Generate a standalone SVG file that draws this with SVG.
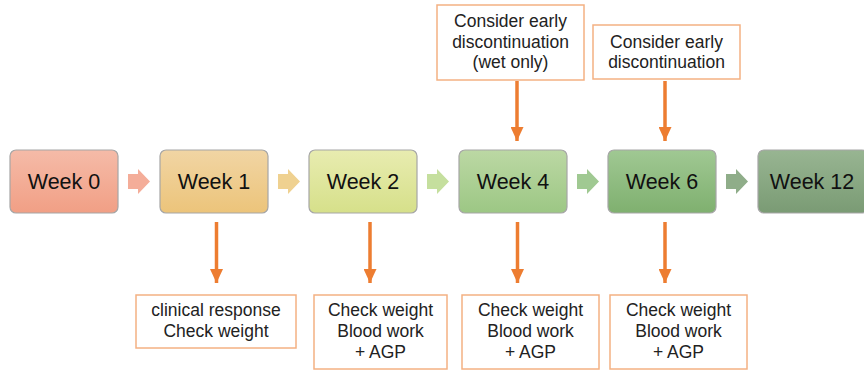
<svg xmlns="http://www.w3.org/2000/svg" width="864" height="371" viewBox="0 0 864 371">
<defs>
<linearGradient id="g0" x1="0" y1="0" x2="0" y2="1"><stop offset="0" stop-color="#f5bba8"/><stop offset="1" stop-color="#f19f85"/></linearGradient>
<linearGradient id="g1" x1="0" y1="0" x2="0" y2="1"><stop offset="0" stop-color="#f1d5a4"/><stop offset="1" stop-color="#ecc47a"/></linearGradient>
<linearGradient id="g2" x1="0" y1="0" x2="0" y2="1"><stop offset="0" stop-color="#e8ecb0"/><stop offset="1" stop-color="#d6e08a"/></linearGradient>
<linearGradient id="g4" x1="0" y1="0" x2="0" y2="1"><stop offset="0" stop-color="#bcd8a4"/><stop offset="1" stop-color="#9cc784"/></linearGradient>
<linearGradient id="g6" x1="0" y1="0" x2="0" y2="1"><stop offset="0" stop-color="#a0c893"/><stop offset="1" stop-color="#7fb06f"/></linearGradient>
<linearGradient id="g12" x1="0" y1="0" x2="0" y2="1"><stop offset="0" stop-color="#98b592"/><stop offset="1" stop-color="#7a9b74"/></linearGradient>
<marker id="ah" viewBox="0 0 14 13" refX="14" refY="6.5" markerWidth="14" markerHeight="13" markerUnits="userSpaceOnUse" orient="auto"><path d="M0,0 L14,6.5 L0,13 Z" fill="#ed7d31"/></marker>
</defs>
<style>
.wk{stroke:#a6a6a6;stroke-width:1.2}
.wt{font-family:"Liberation Sans",Arial,sans-serif;font-size:21.5px;fill:#111;text-anchor:middle}
.nb{fill:#fff;stroke:#f4b183;stroke-width:1.5}
.nt{font-family:"Liberation Sans",Arial,sans-serif;font-size:17.5px;fill:#222;text-anchor:middle}
.oa{stroke:#ed7d31;stroke-width:3.5;fill:none;marker-end:url(#ah)}
</style>
<g id="week0"><rect class="wk" x="10" y="150" width="108" height="63" rx="6" fill="url(#g0)"/><text class="wt" x="64" y="189">Week 0</text></g>
<g id="week1"><rect class="wk" x="160" y="150" width="108" height="63" rx="6" fill="url(#g1)"/><text class="wt" x="214" y="189">Week 1</text></g>
<g id="week2"><rect class="wk" x="309" y="150" width="108" height="63" rx="6" fill="url(#g2)"/><text class="wt" x="363" y="189">Week 2</text></g>
<g id="week4"><rect class="wk" x="459" y="150" width="108" height="63" rx="6" fill="url(#g4)"/><text class="wt" x="513" y="189">Week 4</text></g>
<g id="week6"><rect class="wk" x="608" y="150" width="108" height="63" rx="6" fill="url(#g6)"/><text class="wt" x="662" y="189">Week 6</text></g>
<g id="week12"><rect class="wk" x="758" y="150" width="110" height="63" rx="6" fill="url(#g12)"/><text class="wt" x="812" y="189">Week 12</text></g>
<g id="chevrons">
<path d="M128,174 H138 V169 L150,181.5 L138,194 V189 H128 Z" fill="#f4ad99"/>
<path d="M278,174 H288 V169 L300,181.5 L288,194 V189 H278 Z" fill="#efd190"/>
<path d="M427,174 H437 V169 L449,181.5 L437,194 V189 H427 Z" fill="#c5df9e"/>
<path d="M577,174 H587 V169 L599,181.5 L587,194 V189 H577 Z" fill="#a0c992"/>
<path d="M726,174 H736 V169 L748,181.5 L736,194 V189 H726 Z" fill="#8fad89"/>
</g>
<g id="note-top1"><rect class="nb" x="437" y="5" width="147" height="75"/><text class="nt" x="510.5" y="27">Consider early</text><text class="nt" x="510.5" y="47.5">discontinuation</text><text class="nt" x="510.5" y="68">(wet only)</text></g>
<g id="note-top2"><rect class="nb" x="593" y="25" width="147" height="54"/><text class="nt" x="666.5" y="47.5">Consider early</text><text class="nt" x="666.5" y="67.5">discontinuation</text></g>
<g id="note-w1"><rect class="nb" x="136" y="295" width="160" height="53"/><text class="nt" x="216" y="316">clinical response</text><text class="nt" x="216" y="337">Check weight</text></g>
<g id="note-w2"><rect class="nb" x="314" y="295" width="133" height="74"/><text class="nt" x="380.5" y="316">Check weight</text><text class="nt" x="380.5" y="337">Blood work</text><text class="nt" x="380.5" y="358">+ AGP</text></g>
<g id="note-w4"><rect class="nb" x="462" y="295" width="137" height="74"/><text class="nt" x="530.5" y="316">Check weight</text><text class="nt" x="530.5" y="337">Blood work</text><text class="nt" x="530.5" y="358">+ AGP</text></g>
<g id="note-w6"><rect class="nb" x="610" y="295" width="137" height="74"/><text class="nt" x="678.5" y="316">Check weight</text><text class="nt" x="678.5" y="337">Blood work</text><text class="nt" x="678.5" y="358">+ AGP</text></g>
<g id="connectors">
<line class="oa" x1="216.5" y1="222" x2="216.5" y2="283"/>
<line class="oa" x1="370" y1="222" x2="370" y2="283"/>
<line class="oa" x1="517.5" y1="222" x2="517.5" y2="283"/>
<line class="oa" x1="665" y1="222" x2="665" y2="283"/>
<line class="oa" x1="517" y1="81" x2="517" y2="141"/>
<line class="oa" x1="665" y1="81" x2="665" y2="141"/>
</g>
</svg>
